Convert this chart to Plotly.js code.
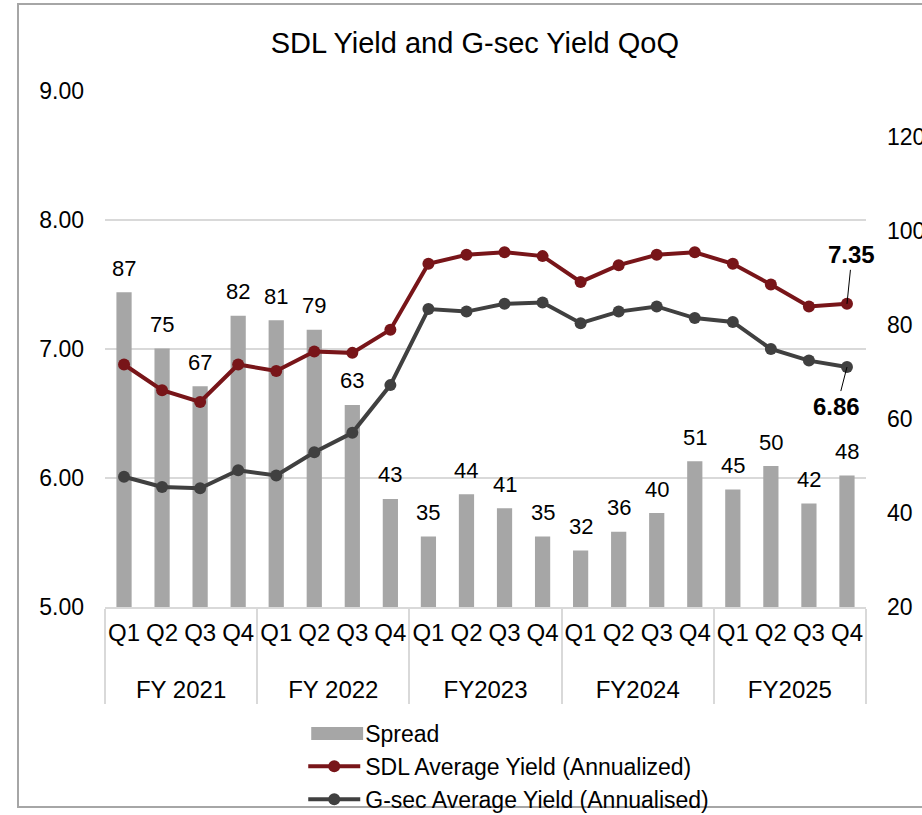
<!DOCTYPE html>
<html>
<head>
<meta charset="utf-8">
<script src="https://cdn.plot.ly/plotly-3.0.1.min.js"></script>
<style>
  html, body { margin: 0; padding: 0; background: #ffffff; overflow: hidden; }
  #frame { position: absolute; left: 17px; top: 3px; width: 1000px; height: 805px; border: 2px solid #A6A6A6; box-sizing: border-box; }
  #chart { position: absolute; left: 0; top: 0; width: 922px; height: 815px; }
</style>
</head>
<body>
<div id="frame"></div>
<div id="chart"></div>
<script>
// ---- data ----
var fiscalYears = ["FY 2021","FY 2021","FY 2021","FY 2021",
                   "FY 2022","FY 2022","FY 2022","FY 2022",
                   "FY2023","FY2023","FY2023","FY2023",
                   "FY2024","FY2024","FY2024","FY2024",
                   "FY2025","FY2025","FY2025","FY2025"];
var quarters = ["Q1","Q2","Q3","Q4","Q1","Q2","Q3","Q4","Q1","Q2","Q3","Q4",
                "Q1","Q2","Q3","Q4","Q1","Q2","Q3","Q4"];
var spread = [87,75,67,82,81,79,63,43,35,44,41,35,32,36,40,51,45,50,42,48];
var sdlYield = [6.88,6.68,6.59,6.88,6.83,6.98,6.97,7.15,7.66,7.73,7.75,7.72,
                7.52,7.65,7.73,7.75,7.66,7.50,7.33,7.35];
var gsecYield = [6.01,5.93,5.92,6.06,6.02,6.20,6.35,6.72,7.31,7.29,7.35,7.36,
                 7.20,7.29,7.33,7.24,7.21,7.00,6.91,6.86];
var leftTicks = [5,6,7,8,9];
var rightTicks = [20,40,60,80,100,120];

var FONT = '"Liberation Sans", Arial, sans-serif';
// quarter labels get an empty second line so the year row sits lower, as in the reference
var quarterLabels = quarters.map(function (q) { return q + '<br> '; });
var xCats = [fiscalYears, quarterLabels];

var traces = [
  {
    type: 'bar', name: 'Spread', x: xCats, y: spread, yaxis: 'y',
    marker: { color: '#A6A6A6' }, hoverinfo: 'skip'
  },
  {
    type: 'scatter', mode: 'lines+markers', name: 'SDL Average Yield (Annualized)',
    x: xCats, y: sdlYield, yaxis: 'y2',
    line: { color: '#781519', width: 4 },
    marker: { color: '#781519', size: 12 }
  },
  {
    type: 'scatter', mode: 'lines+markers', name: 'G-sec Average Yield (Annualised)',
    x: xCats, y: gsecYield, yaxis: 'y2',
    line: { color: '#404040', width: 4 },
    marker: { color: '#404040', size: 12 }
  }
];

var annotations = [];
for (var i = 0; i < spread.length; i++) {
  annotations.push({
    x: i, y: spread[i], xref: 'x', yref: 'y',
    text: String(spread[i]), showarrow: false,
    yshift: 24, font: { family: FONT, size: 22, color: '#000000' }
  });
}
var last = sdlYield.length - 1;
annotations.push({
  x: last, y: sdlYield[last], xref: 'x', yref: 'y2',
  text: '<b>' + sdlYield[last].toFixed(2) + '</b>',
  showarrow: true, arrowhead: 0, arrowwidth: 1, arrowcolor: '#000000',
  ax: 5, ay: -49, standoff: 0,
  font: { family: FONT, size: 24, color: '#000000' }
});
annotations.push({
  x: last, y: gsecYield[last], xref: 'x', yref: 'y2',
  text: '<b>' + gsecYield[last].toFixed(2) + '</b>',
  showarrow: true, arrowhead: 0, arrowwidth: 1, arrowcolor: '#000000',
  ax: -10, ay: 39, standoff: 0,
  font: { family: FONT, size: 24, color: '#000000' }
});

var layout = {
  width: 922, height: 815,
  paper_bgcolor: 'rgba(0,0,0,0)', plot_bgcolor: 'rgba(0,0,0,0)',
  margin: { l: 104.5, r: 55.5, t: 91, b: 208, autoexpand: false },
  font: { family: FONT, size: 22, color: '#000000' },
  title: {
    text: 'SDL Yield and G-sec Yield QoQ',
    x: 0.515, xref: 'container', xanchor: 'center',
    y: 0.947, yref: 'container', yanchor: 'middle',
    font: { family: FONT, size: 29, color: '#000000' }
  },
  bargap: 0.6,
  showlegend: true,
  legend: {
    orientation: 'v', xref: 'paper', yref: 'paper',
    x: 0.2605, xanchor: 'left', y: -0.2035, yanchor: 'top',
    itemwidth: 52, tracegroupgap: 0,
    font: { family: FONT, size: 23, color: '#000000' },
    bgcolor: 'rgba(0,0,0,0)'
  },
  shapes: [
    { // widen the Spread legend key to the reference's long block
      type: 'rect', xref: 'paper', yref: 'paper',
      x0: 0.271, x1: 0.3392, y0: -0.2578, y1: -0.2326,
      fillcolor: '#A6A6A6', line: { width: 0 }, layer: 'above'
    }
  ],
  xaxis: {
    type: 'multicategory', tickangle: 0, automargin: false,
    range: [-0.5, quarters.length - 0.5],
    showline: true, linecolor: '#D9D9D9', linewidth: 2,
    showdividers: true, dividercolor: '#D9D9D9', dividerwidth: 2,
    ticklabelstandoff: 3,
    tickfont: { family: FONT, size: 24, color: '#000000' },
    showgrid: false, zeroline: false, ticks: ''
  },
  yaxis: {
    side: 'right', range: [20, 129.8], tickvals: rightTicks, automargin: false,
    showgrid: false, zeroline: false, showline: false, ticks: '',
    ticklabelstandoff: 20,
    tickfont: { family: FONT, size: 23, color: '#000000' }
  },
  yaxis2: {
    side: 'left', overlaying: 'y', range: [5, 9], tickvals: leftTicks, automargin: false,
    tickformat: '.2f',
    showgrid: true, gridcolor: '#D9D9D9', gridwidth: 2,
    zeroline: false, showline: false, ticks: '',
    ticklabelstandoff: 20,
    tickfont: { family: FONT, size: 23, color: '#000000' }
  },
  annotations: annotations
};

Plotly.newPlot('chart', traces, layout, { displayModeBar: false, staticPlot: true });
</script>
</body>
</html>
